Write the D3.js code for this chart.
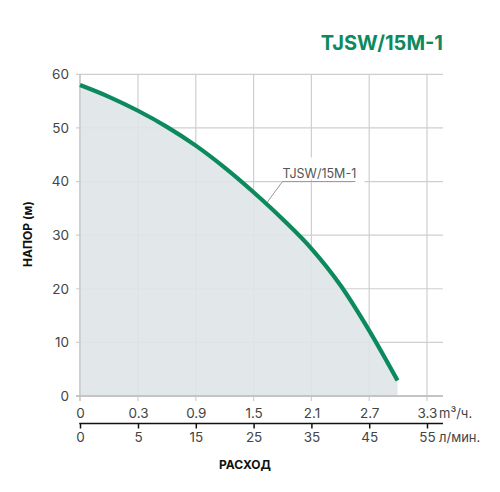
<!DOCTYPE html>
<html>
<head>
<meta charset="utf-8">
<script src="https://cdn.jsdelivr.net/npm/d3@7"></script>
<style>
  body { margin: 0; background: #fff; }
  text { font-family: Inter, "Open Sans", sans-serif; }
</style>
</head>
<body>
<div id="chart-area"></div>
<script>
// Данные кривой (л/мин -> напор, м)
var flowLpm = [0, 2.5, 5, 10, 15, 20, 25, 30, 35, 40, 45, 49.9];
var headM   = [58, 55.8, 53.2, 50.2, 46.7, 42.6, 38.0, 33.0, 27.5, 20.7, 12.2, 2.9];

var tickLpm = [0, 5, 15, 25, 35, 45, 55];
var tickM3h = ["0", "0.3", "0.9", "1.5", "2.1", "2.7", "3.3"];
var tickHead = [0, 10, 20, 30, 40, 50, 60];

var pumpName = "TJSW/15M-1";

var width = 500;
var height = 492;

var green = "#0c8a5e";

var svg = d3.select("#chart-area").append("svg")
    .attr("width", width)
    .attr("height", height);

// шкала расхода: первый шаг 0-5, дальше по 10
var x = d3.scaleLinear()
    .domain([0, 5, 55])
    .range([80, 138, 427]);

var y = d3.scaleLinear()
    .domain([0, 60])
    .range([396, 74.3]);

var gridRight = 443;

var data = flowLpm.map(function(q, i) {
    return { q: q, h: headM[i] };
});

// сетка
var grid = svg.append("g").attr("class", "grid");
grid.selectAll("line.h")
    .data(tickHead)
    .enter().append("line")
    .attr("class", "h")
    .attr("x1", 76)
    .attr("x2", gridRight)
    .attr("y1", function(d) { return y(d); })
    .attr("y2", function(d) { return y(d); })
    .attr("stroke", "#cfcfcf")
    .attr("stroke-width", 1.2);

grid.selectAll("line.v")
    .data(tickLpm)
    .enter().append("line")
    .attr("class", "v")
    .attr("x1", function(d) { return x(d); })
    .attr("x2", function(d) { return x(d); })
    .attr("y1", y(60))
    .attr("y2", y(0) + 5)
    .attr("stroke", "#cfcfcf")
    .attr("stroke-width", 1.2);

// заливка под кривой
var area = d3.area()
    .x(function(d) { return x(d.q); })
    .y0(y(0))
    .y1(function(d) { return y(d.h); })
    .curve(d3.curveMonotoneX);

svg.append("path")
    .datum(data)
    .attr("d", area)
    .attr("fill", "#dfe4e7")
    .attr("opacity", 0.9);

// ось 0 и левая линия поверх заливки
svg.append("line")
    .attr("x1", 76).attr("x2", gridRight)
    .attr("y1", y(0)).attr("y2", y(0))
    .attr("stroke", "#c4c4c4")
    .attr("stroke-width", 2);
svg.append("line")
    .attr("x1", x(0)).attr("x2", x(0))
    .attr("y1", y(60)).attr("y2", y(0) + 5)
    .attr("stroke", "#c4c4c4")
    .attr("stroke-width", 1.2);

// подпись кривой
var lx = x(30), ly = y(40);
svg.append("rect")
    .attr("x", lx - 3)
    .attr("y", ly - 24)
    .attr("width", 86)
    .attr("height", 22)
    .attr("fill", "#fff");
svg.append("rect")
    .attr("x", lx + 70)
    .attr("y", ly - 3)
    .attr("width", 12)
    .attr("height", 6)
    .attr("fill", "#fff");
svg.append("line")
    .attr("x1", lx).attr("x2", lx + 73)
    .attr("y1", ly).attr("y2", ly)
    .attr("stroke", "#9a9a9a")
    .attr("stroke-width", 1);
svg.append("line")
    .attr("x1", lx).attr("x2", x(27.4))
    .attr("y1", ly).attr("y2", y(36.2))
    .attr("stroke", "#9a9a9a")
    .attr("stroke-width", 1);
svg.append("text")
    .attr("x", lx)
    .attr("y", ly - 4)
    .attr("font-size", "12.5px")
    .attr("fill", "#555")
    .text(pumpName);

// кривая
var line = d3.line()
    .x(function(d) { return x(d.q); })
    .y(function(d) { return y(d.h); })
    .curve(d3.curveMonotoneX);

svg.append("path")
    .datum(data)
    .attr("d", line)
    .attr("fill", "none")
    .attr("stroke", green)
    .attr("stroke-width", 4.2)
    .attr("stroke-linecap", "butt");

// ось Y
var leftAxis = d3.axisLeft(y).tickValues(tickHead).tickSize(0).tickPadding(11);
svg.append("g")
    .attr("class", "left axis")
    .attr("transform", "translate(" + 80 + ",0)")
    .call(leftAxis)
    .call(function(g) { g.select(".domain").remove(); })
    .selectAll("text")
    .attr("font-size", "13.5px")
    .attr("fill", "#444")
    .attr("font-family", "Inter, sans-serif");

// верхний ряд подписей, м3/ч
var topAxis = d3.axisBottom(x).tickValues(tickLpm)
    .tickFormat(function(d, i) { return tickM3h[i]; })
    .tickSize(0).tickPadding(0);
svg.append("g")
    .attr("class", "top axis")
    .attr("transform", "translate(0, " + 408 + ")")
    .call(topAxis)
    .call(function(g) { g.select(".domain").remove(); })
    .selectAll("text")
    .attr("font-size", "13.5px")
    .attr("fill", "#444");

// нижняя ось, л/мин
var bottomAxis = d3.axisBottom(x).tickValues(tickLpm).tickSize(5).tickSizeOuter(0).tickPadding(4);
var bAxis = svg.append("g")
    .attr("class", "bottom axis")
    .attr("transform", "translate(0, " + 423.5 + ")")
    .call(bottomAxis);
bAxis.select(".domain").remove();
bAxis.selectAll(".tick line").attr("stroke", "#111").attr("stroke-width", 1.5);
bAxis.selectAll("text")
    .attr("font-size", "13.5px")
    .attr("fill", "#444");
bAxis.append("line")
    .attr("x1", x(0) - 0.75).attr("x2", gridRight)
    .attr("y1", 0).attr("y2", 0)
    .attr("stroke", "#111")
    .attr("stroke-width", 1.6);

// единицы
svg.append("text")
    .attr("x", 439).attr("y", 418)
    .attr("font-size", "13px").attr("fill", "#444")
    .text("m³/ч.");
svg.append("text")
    .attr("x", 439).attr("y", 442)
    .attr("font-size", "13px").attr("fill", "#444")
    .text("л/мин.");

// подписи осей
svg.append("text")
    .attr("x", 245)
    .attr("y", 469)
    .attr("text-anchor", "middle")
    .attr("font-size", "12px")
    .attr("font-weight", "bold")
    .attr("fill", "#111")
    .text("РАСХОД");

svg.append("text")
    .attr("transform", "translate(32, 234) rotate(-90)")
    .attr("text-anchor", "middle")
    .attr("font-size", "12px")
    .attr("font-weight", "bold")
    .attr("fill", "#111")
    .text("НАПОР (м)");

// заголовок
svg.append("text")
    .attr("x", gridRight)
    .attr("y", 50)
    .attr("text-anchor", "end")
    .attr("font-size", "20px")
    .attr("font-weight", "bold")
    .attr("fill", green)
    .text(pumpName);
</script>
</body>
</html>
